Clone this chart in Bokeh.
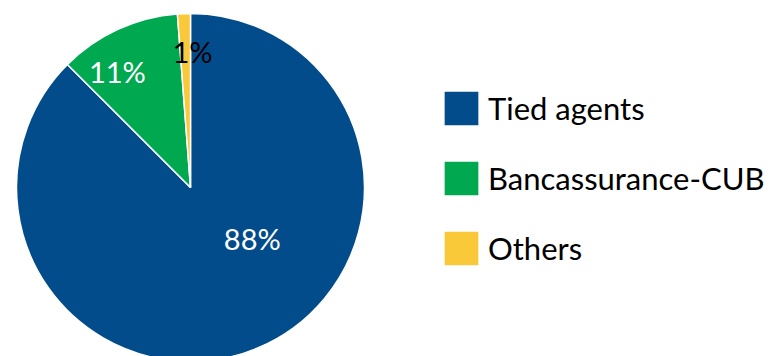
import math
from bokeh.plotting import figure
from bokeh.models import ColumnDataSource, Legend, LegendItem
from bokeh.core.properties import value
from bokeh.embed import file_html
from bokeh.resources import INLINE

# ---- data ----
categories = ["Tied agents", "Bancassurance-CUB", "Others"]
shares = [87.5, 11.3, 1.2]
labels = ["88%", "11%", "1%"]
colors = ["#034C8C", "#00A850", "#F9C93A"]
label_colors = ["white", "white", "black"]

# ---- layout ----
W, H = 769, 356
CX, CY, R = 190, H - 187, 174
label_r = [0.46, 0.79, 0.78]        # radial fraction of label
label_nudge = [28, 7.5, -3]         # degrees, counterclockwise

total = sum(shares)
starts, ends, lx, ly = [], [], [], []
acc = 0.0
for i, s in enumerate(shares):
    a0 = math.pi / 2 - 2 * math.pi * acc / total
    a1 = math.pi / 2 - 2 * math.pi * (acc + s) / total
    starts.append(a0)
    ends.append(a1)
    mid = (a0 + a1) / 2 + math.radians(label_nudge[i])
    lx.append(CX + label_r[i] * R * math.cos(mid))
    ly.append(CY + label_r[i] * R * math.sin(mid))
    acc += s

src = ColumnDataSource(dict(cat=categories, start=starts, end=ends, color=colors,
                            lx=lx, ly=ly, lab=labels, lc=label_colors))

p = figure(width=W, height=H, x_range=(0, W), y_range=(0, H),
           output_backend="svg", toolbar_location=None, min_border=0)
p.axis.visible = False
p.grid.visible = False
p.outline_line_color = None
p.background_fill_color = "white"

wr = p.wedge(x=CX, y=CY, radius=R, start_angle="start", end_angle="end",
             direction="clock", fill_color="color", line_color="white",
             line_width=1.5, source=src)

p.text(x="lx", y="ly", text="lab", text_color="lc", source=src,
       text_font=value("Lato"), text_font_size="29px",
       text_align="center", text_baseline="middle")

items = [LegendItem(label=c, renderers=[wr], index=i) for i, c in enumerate(categories)]
legend = Legend(items=items, location=(439, 86), orientation="vertical",
                glyph_width=44, glyph_height=44, spacing=26, label_standoff=5,
                padding=0, margin=0, border_line_color=None,
                background_fill_alpha=0,
                label_text_font="Lato", label_text_font_size="31px",
                label_text_color="black", label_height=44)
p.add_layout(legend)

open("out.html", "w").write(file_html(p, INLINE))
